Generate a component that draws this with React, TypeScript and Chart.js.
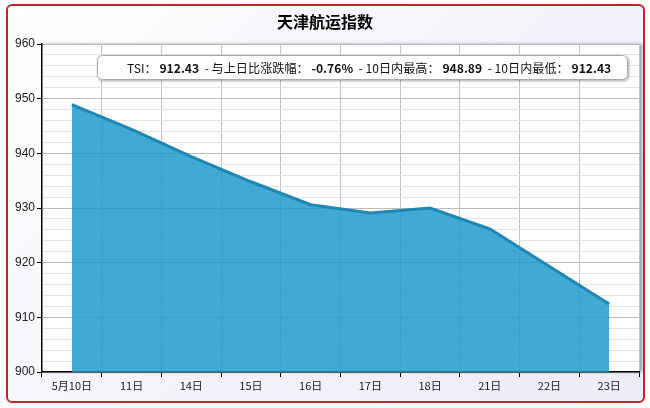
import React, { useEffect, useRef } from "react";
import { Chart, registerables } from "chart.js";

Chart.register(...registerables);

const chartTitle = "天津航运指数";
const categories = ["5月10日", "11日", "14日", "15日", "16日", "17日", "18日", "21日", "22日", "23日"];
const tsiValues = [948.89, 944.4, 939.4, 934.8, 930.6, 929.1, 930.0, 926.2, 919.3, 912.43];
const yMin = 900;
const yMax = 960;
const infoLabels = ["TSI：", " - 与上日比涨跌幅：", " - 10日内最高：", " - 10日内最低："];
const infoValues = ["912.43", "-0.76%", "948.89", "912.43"];

const FONT_CJK = "'Noto Sans CJK SC', 'Liberation Sans', sans-serif";

export default function App() {
  const canvasRef = useRef<HTMLCanvasElement | null>(null);

  useEffect(() => {
    document.body.style.margin = "0";
    const canvas = canvasRef.current;
    if (!canvas) return;

    const decorPlugin = {
      id: "decor",
      beforeDraw(chart: any) {
        const { ctx, chartArea } = chart;
        ctx.save();
        ctx.shadowColor = "rgba(0,0,0,0.35)";
        ctx.shadowBlur = 3;
        ctx.shadowOffsetX = 3;
        ctx.shadowOffsetY = 0;
        ctx.fillStyle = "#ffffff";
        ctx.fillRect(chartArea.left, chartArea.top, chartArea.right - chartArea.left, chartArea.bottom - chartArea.top);
        ctx.restore();
        ctx.save();
        ctx.fillStyle = "#000";
        ctx.font = `bold 16px ${FONT_CJK}`;
        ctx.textAlign = "center";
        ctx.textBaseline = "middle";
        ctx.fillText(chartTitle, 325, 22);
        ctx.restore();
      },
      afterDraw(chart: any) {
        const { ctx } = chart;
        const bx = 97, by = 55, bw = 531, bh = 25, r = 5;
        ctx.save();
        ctx.shadowColor = "rgba(0,0,0,0.35)";
        ctx.shadowBlur = 3;
        ctx.shadowOffsetX = 1;
        ctx.shadowOffsetY = 1;
        ctx.beginPath();
        ctx.roundRect(bx, by, bw, bh, r);
        ctx.fillStyle = "#ffffff";
        ctx.fill();
        ctx.restore();
        ctx.save();
        ctx.beginPath();
        ctx.roundRect(bx + 0.5, by + 0.5, bw - 1, bh - 1, r);
        ctx.strokeStyle = "#a8a8a8";
        ctx.lineWidth = 1;
        ctx.stroke();
        const segs: [string, boolean][] = [];
        infoLabels.forEach((l, i) => {
          segs.push([l, false]);
          segs.push([" " + infoValues[i] + " ", true]);
        });
        const fNorm = `12px ${FONT_CJK}`;
        const fBold = `bold 12px ${FONT_CJK}`;
        let total = 0;
        segs.forEach(([t, b]) => {
          ctx.font = b ? fBold : fNorm;
          total += ctx.measureText(t).width;
        });
        const startX = 127, endX = 614;
        const scale = (endX - startX) / total;
        let x = startX;
        ctx.fillStyle = "#111";
        ctx.textBaseline = "middle";
        ctx.textAlign = "left";
        segs.forEach(([t, b]) => {
          ctx.font = b ? fBold : fNorm;
          const w = ctx.measureText(t).width;
          ctx.save();
          ctx.translate(x, by + bh / 2 + 0.5);
          ctx.scale(scale, 1);
          ctx.fillText(t, 0, 0);
          ctx.restore();
          x += w * scale;
        });
        ctx.restore();
      },
    };

    const chart = new Chart(canvas, {
      type: "line",
      data: {
        labels: categories,
        datasets: [
          {
            data: tsiValues,
            borderColor: "#1f87b5",
            borderWidth: 3,
            backgroundColor: "rgba(28,153,204,0.84)",
            fill: "start",
            pointRadius: 0,
            tension: 0,
          },
        ],
      },
      options: {
        animation: false,
        responsive: false,
        devicePixelRatio: 1,
        layout: { padding: { top: 44, right: 11, left: 0, bottom: 0 } },
        plugins: { legend: { display: false }, title: { display: false }, tooltip: { enabled: false } },
        scales: {
          x: {
            type: "category",
            offset: true,
            grid: {
              offset: true,
              color: "#c4c4c4",
              tickColor: "#000",
              tickLength: 5,
              lineWidth: 1,
            },
            border: { color: "#000", width: 1.5 },
            ticks: {
              color: "#222",
              font: { family: FONT_CJK, size: 11 },
              padding: 2,
              maxRotation: 0,
              autoSkip: false,
            },
            afterFit(scale: any) {
              scale.height = 36;
            },
          },
          y: {
            min: yMin,
            max: yMax,
            grid: {
              color: (c: any) => (c.tick && c.tick.value % 10 === 0 ? "#bdbdbd" : "#e4e4e4"),
              tickColor: (c: any) => (c.tick && c.tick.value % 10 === 0 ? "#000" : "rgba(0,0,0,0)"),
              tickLength: 5,
            },
            border: { color: "#000", width: 1.5 },
            ticks: {
              stepSize: 2,
              autoSkip: false,
              color: "#222",
              font: { family: "'Liberation Sans', Arial, sans-serif", size: 12 },
              padding: 2,
              callback: (v: any) => (Number(v) % 10 === 0 ? String(v) : ""),
            },
            afterFit(scale: any) {
              scale.width = 42;
            },
          },
        },
      },
      plugins: [decorPlugin],
    } as any);

    return () => chart.destroy();
  }, []);

  return (
    <div style={{ position: "relative", width: 650, height: 408, overflow: "hidden" }}>
      <div
        style={{
          position: "absolute",
          left: 6,
          top: 4,
          width: 635,
          height: 395,
          border: "2px solid #c0272d",
          borderRadius: 6,
          background: "linear-gradient(135deg, #ffffff 0%, #f4f4fb 50%, #ececf8 100%)",
        }}
      />
      <canvas ref={canvasRef} width={650} height={408} style={{ position: "absolute", left: 0, top: 0 }} />
    </div>
  );
}
